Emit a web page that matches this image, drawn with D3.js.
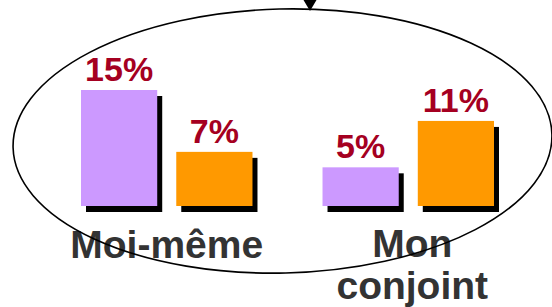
<!DOCTYPE html>
<html>
<head>
<meta charset="utf-8">
<script src="https://cdn.jsdelivr.net/npm/d3@7"></script>
<style>
  body { margin: 0; background: #fff; }
  svg { display: block; font-family: "Liberation Sans", Arial, sans-serif; }
</style>
</head>
<body>
<div id="chart"></div>
<script>
// values
let categories = ["Moi-même", "Mon conjoint"];
let categoryLines = [["Moi-même"], ["Mon", "conjoint"]];
let series = ["a", "b"];
let valuesA = [15, 5];   // purple
let valuesB = [7, 11];   // orange
let valueLabels = [["15%", "7%"], ["5%", "11%"]];

let width = 552, height = 307;
let colors = {a: "#CC99FF", b: "#FF9900"};

let svg = d3.select("#chart").append("svg")
    .attr("width", width)
    .attr("height", height);

let x0 = d3.scaleBand()
    .domain(categories)
    .range([81, 494])
    .paddingInner(0.29);

let x1 = d3.scaleBand()
    .domain(series)
    .range([0, x0.bandwidth()])
    .paddingInner(0.2);

let y = d3.scaleLinear()
    .domain([0, 15])
    .range([206, 90]);

let rows = [];
categories.forEach((c, i) => {
    rows.push({cat: c, key: "a", value: valuesA[i], label: valueLabels[i][0]});
    rows.push({cat: c, key: "b", value: valuesB[i], label: valueLabels[i][1]});
});

// shadows first
svg.append("g")
    .selectAll("rect")
    .data(rows)
    .join("rect")
        .attr("x", d => x0(d.cat) + x1(d.key) + 5)
        .attr("y", d => y(d.value) + 6)
        .attr("width", x1.bandwidth())
        .attr("height", d => y(0) - y(d.value))
        .attr("fill", "#000");

svg.append("g")
    .selectAll("rect")
    .data(rows)
    .join("rect")
        .attr("x", d => x0(d.cat) + x1(d.key))
        .attr("y", d => y(d.value))
        .attr("width", x1.bandwidth())
        .attr("height", d => y(0) - y(d.value))
        .attr("fill", d => colors[d.key]);

svg.append("g")
    .selectAll("text")
    .data(rows)
    .join("text")
        .attr("x", d => x0(d.cat) + x1(d.key) + x1.bandwidth() / 2)
        .attr("y", d => y(d.value) - 9)
        .attr("text-anchor", "middle")
        .attr("font-size", 34)
        .attr("font-weight", "bold")
        .attr("fill", "#A50021")
        .text(d => d.label);

// category labels
svg.append("g")
    .selectAll("text")
    .data(categories)
    .join("text")
        .attr("x", d => x0(d) + x0.bandwidth() / 2)
        .attr("y", (d, i) => categoryLines[i].length > 1 ? 257 : 258)
        .attr("text-anchor", "middle")
        .attr("font-size", 39)
        .attr("font-weight", "bold")
        .attr("fill", "#333333")
        .each(function(d, i) {
            let t = d3.select(this);
            categoryLines[i].forEach((line, j) => {
                t.append("tspan")
                    .attr("x", x0(d) + x0.bandwidth() / 2 + (i == 1 ? 4 : 0))
                    .attr("dy", j == 0 ? 0 : 41.5)
                    .text(line);
            });
        });

// ellipse drawn over everything
svg.append("ellipse")
    .attr("cx", 282.5)
    .attr("cy", 141)
    .attr("rx", 269.5)
    .attr("ry", 132)
    .attr("transform", "rotate(-1.4 282.5 141)")
    .attr("fill", "none")
    .attr("stroke", "#000")
    .attr("stroke-width", 1.6);

// arrow head coming in from the top
svg.append("path")
    .attr("d", "M303.5,0 L316.5,0 L310,11 Z")
    .attr("fill", "#000");
</script>
</body>
</html>
